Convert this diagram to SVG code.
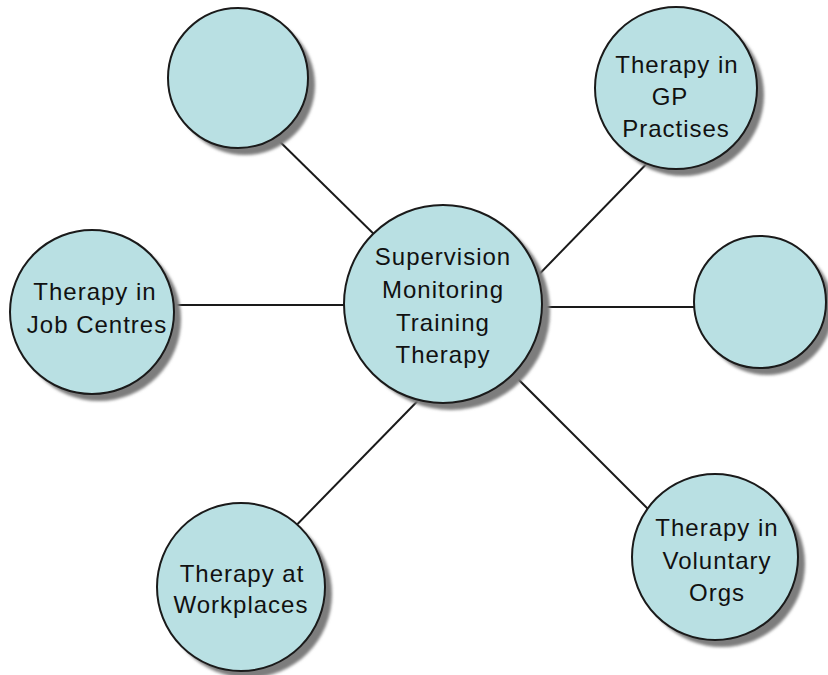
<svg xmlns="http://www.w3.org/2000/svg" width="828" height="675" viewBox="0 0 828 675">
  <defs>
    <filter id="soft" x="-20%" y="-20%" width="140%" height="140%">
      <feGaussianBlur stdDeviation="1.6"/>
    </filter>
  </defs>
  <style>
    .link { stroke: #1a1a1a; stroke-width: 2; fill: none; }
    .shadow { fill: #7d7d7d; filter: url(#soft); }
    .bubble { fill: #b9e0e3; stroke: #1a1a1a; stroke-width: 2; }
    .label { font-family: "Liberation Sans", Arial, sans-serif; font-size: 24px; letter-spacing: 1px; fill: #111; text-anchor: middle; }
  </style>
  <rect width="828" height="675" fill="#ffffff"/>

  <!-- spokes from the hub to each satellite -->
  <g id="connectors">
    <line class="link" x1="268" y1="130" x2="443" y2="302"/>
    <line class="link" x1="520" y1="294" x2="660" y2="150"/>
    <line class="link" x1="150" y1="305" x2="400" y2="305"/>
    <line class="link" x1="500" y1="307" x2="730" y2="307"/>
    <line class="link" x1="480" y1="341" x2="680" y2="541"/>
    <line class="link" x1="440" y1="378" x2="280" y2="542"/>
  </g>

  <g id="hub">
    <circle class="shadow" cx="451" cy="311" r="99"/>
    <circle class="bubble" cx="443" cy="304" r="99"/>
    <text class="label" x="443" y="265">Supervision</text>
    <text class="label" x="443" y="298">Monitoring</text>
    <text class="label" x="443" y="331">Training</text>
    <text class="label" x="443" y="363">Therapy</text>
  </g>

  <g id="node-blank-top">
    <circle class="shadow" cx="245" cy="85" r="70"/>
    <circle class="bubble" cx="238" cy="78" r="70"/>
  </g>

  <g id="node-gp">
    <circle class="shadow" cx="683" cy="95" r="81"/>
    <circle class="bubble" cx="676" cy="88" r="81"/>
    <text class="label" x="677" y="73">Therapy in</text>
    <text class="label" x="670" y="105">GP</text>
    <text class="label" x="676" y="137">Practises</text>
  </g>

  <g id="node-job-centres">
    <circle class="shadow" cx="99" cy="319" r="82"/>
    <circle class="bubble" cx="92" cy="312" r="82"/>
    <text class="label" x="95" y="300">Therapy in</text>
    <text class="label" x="97" y="333">Job Centres</text>
  </g>

  <g id="node-blank-right">
    <circle class="shadow" cx="767" cy="309" r="66"/>
    <circle class="bubble" cx="760" cy="302" r="66"/>
  </g>

  <g id="node-voluntary">
    <circle class="shadow" cx="722" cy="564" r="83"/>
    <circle class="bubble" cx="715" cy="557" r="83"/>
    <text class="label" x="717" y="536">Therapy in</text>
    <text class="label" x="717" y="569">Voluntary</text>
    <text class="label" x="717" y="601">Orgs</text>
  </g>

  <g id="node-workplaces">
    <circle class="shadow" cx="248" cy="594" r="84"/>
    <circle class="bubble" cx="241" cy="587" r="84"/>
    <text class="label" x="242" y="582">Therapy at</text>
    <text class="label" x="241" y="613">Workplaces</text>
  </g>
</svg>
